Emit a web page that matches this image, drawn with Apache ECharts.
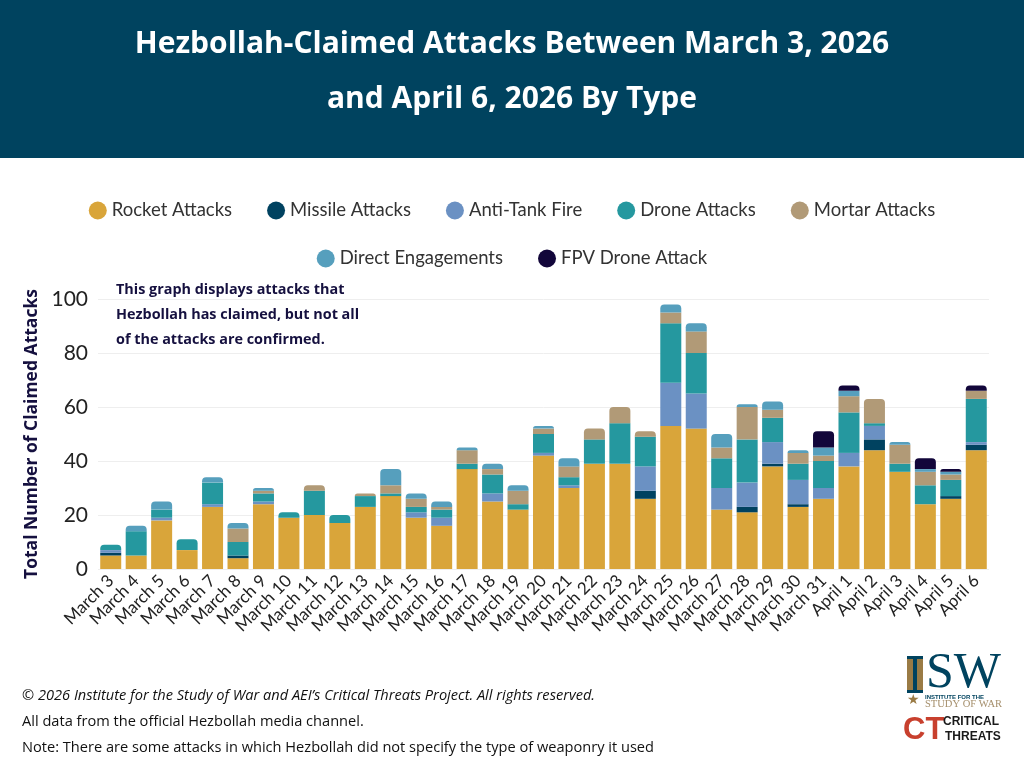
<!DOCTYPE html>
<html>
<head>
<meta charset="utf-8">
<style>html,body{margin:0;background:#fff}#chart{width:1024px;height:768px}</style>
<script src="https://cdn.jsdelivr.net/npm/echarts@6/dist/echarts.min.js"></script>
</head>
<body>
<div id="chart"></div>
<script>
const days = ['March 3','March 4','March 5','March 6','March 7','March 8','March 9','March 10','March 11','March 12','March 13','March 14','March 15','March 16','March 17','March 18','March 19','March 20','March 21','March 22','March 23','March 24','March 25','March 26','March 27','March 28','March 29','March 30','March 31','April 1','April 2','April 3','April 4','April 5','April 6'];
const rocket = [5,5,18,7,23,4,24,19,20,17,23,27,19,16,37,25,22,42,30,39,39,26,53,52,22,21,38,23,26,38,44,36,24,26,44];
const missile = [1,0,0,0,0,1,0,0,0,0,0,0,0,0,0,0,0,0,0,0,0,3,0,0,0,2,1,1,0,0,4,0,0,1,2];
const antiTank = [1,0,1,0,1,0,1,0,0,0,0,0,2,3,0,3,0,1,1,0,0,9,16,13,8,9,8,9,4,5,5,0,0,0,1];
const drone = [2,9,3,4,8,5,3,2,9,3,4,1,2,3,2,7,2,7,3,9,15,11,22,15,11,16,9,6,10,15,1,3,7,6,16];
const mortar = [0,0,0,0,0,5,1,0,2,0,1,3,3,1,5,2,5,2,4,4,6,2,4,8,4,12,3,4,2,6,9,7,5,2,3];
const direct = [0,2,3,0,2,2,1,0,0,0,0,6,2,2,1,2,2,1,3,0,0,0,3,3,5,1,3,1,3,2,0,1,1,1,0];
const fpv = [0,0,0,0,0,0,0,0,0,0,0,0,0,0,0,0,0,0,0,0,0,0,0,0,0,0,0,0,6,2,0,0,4,1,2];
const totals = [9,16,25,11,34,17,30,21,31,20,28,37,28,25,45,39,31,53,41,52,60,51,98,91,50,61,62,44,51,68,63,47,41,37,68];

const stackDefs = [
  { name: 'Rocket Attacks', values: rocket, color: '#d9a53a' },
  { name: 'Missile Attacks', values: missile, color: '#004260' },
  { name: 'Anti-Tank Fire', values: antiTank, color: '#6b91c3' },
  { name: 'Drone Attacks', values: drone, color: '#25989f' },
  { name: 'Mortar Attacks', values: mortar, color: '#b19a77' },
  { name: 'Direct Engagements', values: direct, color: '#569fbd' },
  { name: 'FPV Drone Attack', values: fpv, color: '#12063a' }
];

const textFont = 'Lato, sans-serif';
const noteFont = '"Open Sans", sans-serif';

// only the top segment of each bar gets rounded corners
function topIndex(dayIdx) {
  let top = 0;
  stackDefs.forEach((s, i) => { if (s.values[dayIdx] > 0) top = i; });
  return top;
}

const series = stackDefs.map((s, i) => ({
  name: s.name,
  type: 'bar',
  stack: 'attacks',
  barWidth: 21,
  itemStyle: { color: s.color },
  data: s.values.map((v, d) => topIndex(d) === i
    ? { value: v, itemStyle: { borderRadius: [4, 4, 0, 0] } }
    : v)
}));

// invisible line that only carries the total labels
series.push({
  name: 'Total',
  type: 'line',
  data: totals,
  symbol: 'none',
  lineStyle: { opacity: 0 },
  silent: true,
  z: 5,
  label: { show: true, position: 'top', distance: 3, color: '#222', fontFamily: textFont, fontSize: 14 }
});

const legendBase = {
  icon: 'circle',
  itemWidth: 18,
  itemHeight: 18,
  itemGap: 35,
  selectedMode: false,
  textStyle: { color: '#333', fontFamily: textFont, fontSize: 18.5, padding: [0, 0, 0, 0] }
};

function footText(y, text, italic) {
  return { type: 'text', left: 22, top: y, style: { text, fill: '#111', font: (italic ? 'italic ' : '') + '14.6px ' + noteFont } };
}

function noteText(y, text) {
  return { type: 'text', left: 116, top: y, style: { text, fill: '#15103f', font: 'bold 14.4px ' + noteFont } };
}

const graphic = [
  { type: 'rect', left: 0, top: 0, z: -1, shape: { width: 1024, height: 158 }, style: { fill: '#00435f' } },
  { type: 'text', left: 'center', top: 29, style: { text: 'Hezbollah-Claimed Attacks Between March 3, 2026', fill: '#fff', font: 'bold 30px ' + noteFont } },
  { type: 'text', left: 'center', top: 84, style: { text: 'and April 6, 2026 By Type', fill: '#fff', font: 'bold 30px ' + noteFont } },
  noteText(283, 'This graph displays attacks that'),
  noteText(308, 'Hezbollah has claimed, but not all'),
  noteText(333, 'of the attacks are confirmed.'),
  footText(688, '\u00a9 2026 Institute for the Study of War and AEI\u2019s Critical Threats Project. All rights reserved.', true),
  footText(714, 'All data from the official Hezbollah media channel.'),
  footText(740, 'Note: There are some attacks in which Hezbollah did not specify the type of weaponry it used'),
  // ISW logo
  { type: 'rect', left: 907, top: 657, shape: { width: 16, height: 36 }, style: { fill: '#9a7b45' } },
  { type: 'rect', left: 907, top: 656, shape: { width: 16, height: 3 }, style: { fill: '#00435f' } },
  { type: 'rect', left: 907, top: 690, shape: { width: 16, height: 3 }, style: { fill: '#00435f' } },
  { type: 'rect', left: 913, top: 658, shape: { width: 4, height: 34 }, style: { fill: '#00435f' } },
  { type: 'text', left: 926, top: 649, style: { text: 'SW', fill: '#00435f', font: '50px "Liberation Serif", serif' } },
  { type: 'text', left: 907, top: 693, style: { text: '\u2605', fill: '#9a7b45', font: '14px "DejaVu Sans"' } },
  { type: 'text', left: 925, top: 694, style: { text: 'INSTITUTE FOR THE', fill: '#00435f', font: 'bold 6px "Liberation Sans"' } },
  { type: 'text', left: 925, top: 699, style: { text: 'STUDY OF WAR', fill: '#a58f6c', font: '10.5px "Liberation Serif"' } },
  // CT logo
  { type: 'text', left: 903, top: 715, style: { text: 'CT', fill: '#c8402e', font: 'bold 31px "Liberation Sans"' } },
  { type: 'text', left: 943, top: 716, style: { text: 'CRITICAL', fill: '#1a1a1a', font: 'bold 12px "Liberation Sans"' } },
  { type: 'text', left: 945, top: 731, style: { text: 'THREATS', fill: '#1a1a1a', font: 'bold 12px "Liberation Sans"' } }
];

const option = {
  animation: false,
  backgroundColor: '#fff',
  textStyle: { fontFamily: textFont },
  legend: [
    Object.assign({}, legendBase, { top: 196, left: 'center', data: stackDefs.slice(0, 5).map(s => s.name) }),
    Object.assign({}, legendBase, { top: 244, left: 'center', data: stackDefs.slice(5).map(s => s.name) })
  ],
  grid: { left: 98, right: 35, top: 299, bottom: 199 },
  xAxis: {
    type: 'category',
    data: days,
    axisLine: { show: false },
    axisTick: { show: false },
    axisLabel: { interval: 0, rotate: 45, margin: 9, color: '#222', fontFamily: textFont, fontSize: 17 }
  },
  yAxis: {
    type: 'value',
    min: 0,
    max: 100,
    interval: 20,
    name: 'Total Number of Claimed Attacks',
    nameLocation: 'middle',
    nameGap: 57,
    nameTextStyle: { color: '#15103f', fontFamily: noteFont, fontWeight: 'bold', fontSize: 17.5 },
    axisLine: { show: false },
    axisTick: { show: false },
    splitLine: { lineStyle: { color: '#eeeeee', width: 1 } },
    axisLabel: { margin: 10, color: '#222', fontFamily: textFont, fontSize: 21 }
  },
  series,
  graphic
};

const chart = echarts.init(document.getElementById('chart'), null, { renderer: 'canvas' });
chart.setOption(option);
</script>
</body>
</html>
